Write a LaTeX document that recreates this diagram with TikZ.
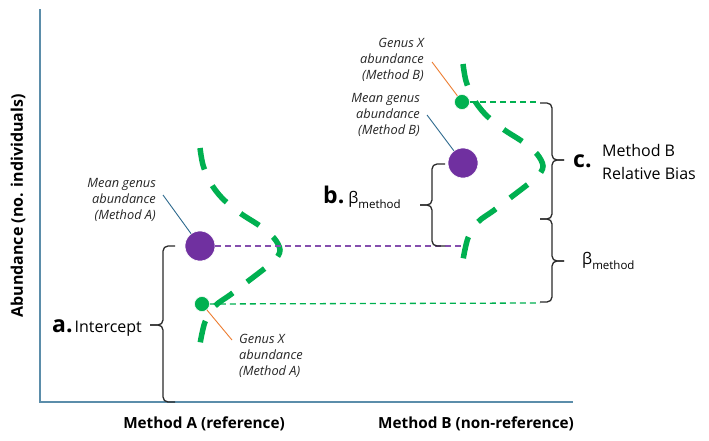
\documentclass[tikz,border=0pt]{standalone}
\usepackage{fontspec}
\setmainfont{Open Sans}
\usetikzlibrary{decorations.pathreplacing}
\definecolor{ggreen}{HTML}{00B050}
\definecolor{gpurple}{HTML}{7030A0}
\definecolor{gorange}{HTML}{ED7D31}
\definecolor{gblue}{HTML}{2E6A8E}
\definecolor{axisblue}{HTML}{5B8DAA}
\definecolor{bracegray}{HTML}{2B2B2B}
\newcommand{\bigbold}{\fontsize{23}{23}\selectfont\bfseries}
\begin{document}
\begin{tikzpicture}[x=1pt,y=-1pt,
  dens/.style={ggreen, line width=5.5pt, dash pattern=on 22pt off 18pt},
  axisline/.style={axisblue, line width=1.6pt},
  pdot/.style={circle, fill=gpurple, draw=white, line width=0.6pt, minimum size=30pt, inner sep=0pt},
  gdot/.style={circle, fill=ggreen, draw=white, line width=0.5pt, minimum size=15pt, inner sep=0pt},
  pdash/.style={gpurple!85, line width=1.3pt, dash pattern=on 6pt off 4pt},
  gdash/.style={ggreen, line width=1.3pt, dash pattern=on 6pt off 4pt},
  bracestyle/.style={bracegray, line width=1.3pt, rounded corners=5pt},
  leadblue/.style={gblue, line width=0.9pt},
  leadorange/.style={gorange, line width=0.9pt},
  smalllab/.style={font=\fontsize{12.8}{16}\selectfont\itshape, inner sep=0pt, text=black!85},
  axlab/.style={font=\fontsize{15.3}{18}\selectfont\bfseries, inner sep=0pt},
  biglab/.style={font=\fontsize{16}{23}\selectfont, inner sep=0pt}
]
\useasboundingbox (0,0) rectangle (709,440);
\fill[white] (0,0) rectangle (709,440);

% axes
\draw[axisline] (40,9) -- (40,402) -- (573,402);

% density curves
\draw[dens] plot[smooth, tension=0.55] coordinates {(200,148) (203,165) (210,182) (222,198) (240,213) (260,226) (274,238) (280,250) (275,260) (264,269) (247,282) (230,295) (215,306) (205,322) (200,344)};
\begin{scope}[shift={(263,-84)}]
\draw[dens] plot[smooth, tension=0.55] coordinates {(200,148) (203,165) (210,182) (222,198) (240,213) (260,226) (274,238) (280,250) (275,260) (264,269) (247,282) (230,295) (215,306) (205,322) (200,344)};
\end{scope}

% points
\node[pdot] (mA) at (200,246) {};
\node[gdot] (gA) at (202,304) {};
\node[pdot] (mB) at (463,163) {};
\node[gdot] (gB) at (462,102) {};

% dashed reference lines
\coordinate (pEnd) at (462,246);
\coordinate (gAend) at (540,303);
\coordinate (gBend) at (538,102);
\draw[pdash] (mA) -- (pEnd);
\draw[gdash] (gA) -- (gAend);
\draw[gdash] (gB) -- (gBend);

% braces
\draw[bracestyle] (175,246) -- (163,246) -- (163,325) -- (150,325);
\draw[bracestyle] (150,325) -- (163,325) -- (163,402) -- (175,402);
\draw[bracestyle] (445,164) -- (432,164) -- (432,205) -- (420,205);
\draw[bracestyle] (420,205) -- (432,205) -- (432,246) -- (445,246);
\draw[bracestyle] (540,103) -- (552,103) -- (552,160) -- (564,160);
\draw[bracestyle] (564,160) -- (552,160) -- (552,219) -- (540,219);
\draw[bracestyle] (540,219) -- (552,219) -- (552,261) -- (564,261);
\draw[bracestyle] (564,261) -- (552,261) -- (552,302) -- (540,302);

% leader lines
\coordinate (lmA) at (163,195);
\coordinate (lgA) at (232,340);
\coordinate (lgB) at (432,62);
\coordinate (lmB) at (427,115);
\draw[leadblue] (lmA) -- (mA);
\draw[leadorange] (gA) -- (lgA);
\draw[leadorange] (lgB) -- (gB);
\draw[leadblue] (lmB) -- (mB);

% small labels
\node[smalllab, anchor=east, align=right] (tmA) at (156,200) {Mean genus\\abundance\\(Method A)};
\node[smalllab, anchor=west, align=left] (tgA) at (239,356) {Genus X\\abundance\\(Method A)};
\node[smalllab, anchor=east, align=right] (tgB) at (424,60) {Genus X\\abundance\\(Method B)};
\node[smalllab, anchor=east, align=right] (tmB) at (420,115) {Mean genus\\abundance\\(Method B)};

% letters and annotations
\node[biglab, anchor=base west] (labA) at (52,332) {{\bigbold a.}\hspace{2pt}Intercept};
\node[biglab, anchor=base west] (labB) at (323,203) {{\bigbold b.}\hspace{4pt}β\raisebox{-5pt}{\fontsize{11.5}{12}\selectfont method}};
\node[biglab, anchor=base west] (labC) at (573,167) {\bigbold c.};
\node[biglab, anchor=west, align=left] (labCt) at (602,162) {Method B\\Relative Bias};
\node[biglab, anchor=base west] (labD) at (582,264) {β\raisebox{-5pt}{\fontsize{11.5}{12}\selectfont method}};

% axis titles
\node[axlab, rotate=90] (ylab) at (18,206) {\fontsize{16}{18}\selectfont Abundance (no. individuals)};
\node[axlab] (xlabA) at (204,424) {Method A (reference)};
\node[axlab] (xlabB) at (476,424) {Method B (non-reference)};
\end{tikzpicture}
\end{document}
